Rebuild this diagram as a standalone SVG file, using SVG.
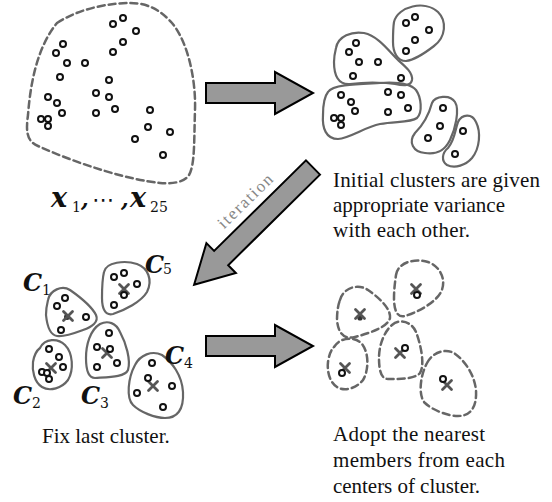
<svg xmlns="http://www.w3.org/2000/svg" width="552" height="502" viewBox="0 0 552 502">
  <style>
    .pt { fill: #fff; stroke: #111; stroke-width: 2; }
    .blob { fill: none; stroke: #666; stroke-width: 2.2; }
    .dash { fill: none; stroke: #666; stroke-width: 2.5; stroke-dasharray: 7 4; stroke-linecap: round; }
    .cross { stroke: #555; stroke-width: 2.8; stroke-linecap: round; fill: none; }
    .dot { fill: #333; }
    .big { fill: #999; stroke: #000; stroke-width: 2; stroke-linejoin: miter; }
    .note { font-family: "Liberation Serif", "Times New Roman", serif; font-size: 21px; fill: #111; }
    .mv { font-family: "DejaVu Serif", serif; font-weight: bold; font-style: italic; fill: #111; }
    .sub { font-family: "DejaVu Serif", serif; font-size: 14px; fill: #111; }
  </style>
  <defs>
    <symbol id="o" overflow="visible"><circle r="3" class="pt"/></symbol>
    <g id="x"><path class="cross" d="M-4.5,-4.5 L4.5,4.5 M4.5,-4.5 L-4.5,4.5"/></g>
  </defs>

  <!-- all 25 samples before clustering -->
  <g id="samples">
    <path class="dash" d="M57,23 C80,8 110,3 130,3 C150,3 162,12 172,23 C188,42 196,80 195,110 C194,140 195,165 189,175 C184,183 170,184 160,183 C130,180 80,165 38,146 C26,141 26,130 28,115 C30,90 35,50 57,23 Z"/>
    <use href="#o" x="113" y="24"/><use href="#o" x="123" y="18"/><use href="#o" x="136" y="31"/>
    <use href="#o" x="123" y="42"/><use href="#o" x="113" y="52"/><use href="#o" x="63" y="44"/>
    <use href="#o" x="56" y="53"/><use href="#o" x="67" y="63"/><use href="#o" x="85" y="63"/>
    <use href="#o" x="60" y="77"/><use href="#o" x="109" y="80"/><use href="#o" x="48" y="97"/>
    <use href="#o" x="96" y="93"/><use href="#o" x="109" y="97"/><use href="#o" x="57" y="103"/>
    <use href="#o" x="62" y="113"/><use href="#o" x="96" y="113"/><use href="#o" x="115" y="109"/>
    <use href="#o" x="150" y="110"/><use href="#o" x="148" y="127"/><use href="#o" x="170" y="132"/>
    <use href="#o" x="135" y="139"/><use href="#o" x="163" y="155"/><use href="#o" x="41" y="119"/>
    <use href="#o" x="48" y="119"/><use href="#o" x="48" y="126"/>
    <text class="mv" font-size="27" x="51" y="207">x</text>
    <text class="sub" font-size="15" x="72" y="212">1</text>
    <text class="mv" font-size="22" x="81" y="207">,</text>
    <text font-family="DejaVu Sans, sans-serif" font-size="22" fill="#111" x="92" y="207">⋯</text>
    <text class="mv" font-size="22" x="121" y="207">,</text>
    <text class="mv" font-size="27" x="130" y="207">x</text>
    <text class="sub" font-size="15" x="150" y="212">25</text>
  </g>

  <!-- initial clusters -->
  <g id="initial">
    <path class="blob" d="M394,22 C398,6 425,0 438,12 C447,21 446,37 434,46 C425,53 414,60 406,61 C397,61 393,52 393,42 C393,35 393,28 394,22 Z"/>
    <use href="#o" x="406" y="23"/><use href="#o" x="415" y="17"/><use href="#o" x="429" y="30"/>
    <use href="#o" x="415" y="40"/><use href="#o" x="406" y="51"/>
    <path class="blob" d="M336,48 C338,36 352,31 364,33 C378,36 388,50 398,60 C406,67 413,73 412,80 C411,86 404,86 395,84 C380,82 365,82 350,84 C338,85 334,75 334,62 C334,56 335,52 336,48 Z"/>
    <use href="#o" x="356" y="43"/><use href="#o" x="349" y="52"/><use href="#o" x="359" y="62"/>
    <use href="#o" x="378" y="62"/><use href="#o" x="353" y="76"/><use href="#o" x="401" y="78"/>
    <path class="blob" d="M328,92 C333,84 360,84 380,83 C395,82 410,83 416,90 C421,97 423,112 417,118 C410,123 395,121 380,124 C365,127 350,138 338,139 C326,139 322,128 323,115 C323,105 324,97 328,92 Z"/>
    <use href="#o" x="341" y="95"/><use href="#o" x="351" y="102"/><use href="#o" x="355" y="111"/>
    <use href="#o" x="334" y="118"/><use href="#o" x="341" y="118"/><use href="#o" x="341" y="125"/>
    <use href="#o" x="388" y="92"/><use href="#o" x="401" y="95"/><use href="#o" x="408" y="108"/>
    <use href="#o" x="388" y="112"/>
    <path class="blob" d="M432,103 C435,96 450,94 455,102 C460,110 455,130 450,140 C445,150 438,155 425,153 C413,152 408,142 415,133 C422,126 428,118 432,103 Z"/>
    <use href="#o" x="443" y="108"/><use href="#o" x="440" y="126"/><use href="#o" x="428" y="138"/>
    <path class="blob" d="M458,122 C462,114 472,113 476,122 C481,132 480,148 472,158 C466,165 455,169 447,165 C441,161 442,153 448,148 C455,140 455,130 458,122 Z"/>
    <use href="#o" x="463" y="131"/><use href="#o" x="455" y="154"/>
  </g>

  <!-- final clusters C1..C5 with their centres -->
  <g id="final">
    <g id="c1">
      <path class="blob" d="M48,300 C50,290 62,285 70,290 C80,297 92,307 96,315 C99,322 92,327 83,330 C75,333 65,337 57,336 C50,335 47,325 46,315 C46,309 47,304 48,300 Z"/>
      <use href="#o" x="65" y="298"/><use href="#o" x="57" y="306"/><use href="#o" x="86" y="317"/><use href="#o" x="61" y="330"/>
      <circle class="dot" cx="67" cy="317" r="3"/><use href="#x" x="68" y="316"/>
    </g>
    <g id="c5">
      <path class="blob" d="M104,272 C106,262 125,260 137,264 C148,268 153,280 147,292 C141,302 125,310 113,314 C105,316 102,308 102,298 C102,288 102,280 104,272 Z"/>
      <use href="#x" x="124" y="289"/>
      <use href="#o" x="114" y="277"/><use href="#o" x="124" y="273"/><use href="#o" x="137" y="284"/>
      <use href="#o" x="124" y="295"/><use href="#o" x="114" y="305"/>
    </g>
    <g id="c3">
      <path class="blob" d="M100,324 C108,320 116,323 120,332 C126,343 131,360 128,370 C125,377 110,377 95,378 C88,378 86,370 86,358 C86,345 90,330 100,324 Z"/>
      <use href="#x" x="107" y="353"/>
      <use href="#o" x="109" y="333"/><use href="#o" x="97" y="347"/><use href="#o" x="110" y="349"/>
      <use href="#o" x="117" y="363"/><use href="#o" x="97" y="367"/>
    </g>
    <g id="c2">
      <path class="blob" d="M40,348 C45,338 58,338 65,345 C73,353 74,370 68,380 C62,388 50,392 42,387 C34,382 32,370 33,362 C34,356 36,351 40,348 Z"/>
      <use href="#x" x="51" y="368"/>
      <use href="#o" x="49" y="349"/><use href="#o" x="59" y="357"/><use href="#o" x="63" y="367"/>
      <use href="#o" x="42" y="372"/><use href="#o" x="47" y="373"/><use href="#o" x="49" y="379"/>
    </g>
    <g id="c4">
      <path class="blob" d="M135,365 C140,355 152,350 162,355 C172,362 182,375 183,392 C184,410 177,418 165,418 C155,418 140,412 133,405 C126,398 128,378 135,365 Z"/>
      <use href="#x" x="153" y="386"/>
      <use href="#o" x="152" y="363"/><use href="#o" x="148" y="378"/><use href="#o" x="172" y="386"/>
      <use href="#o" x="137" y="393"/><use href="#o" x="163" y="407"/>
    </g>
    <text class="mv" font-size="24" x="23" y="291">C</text><text class="sub" font-size="16" x="42" y="295">1</text>
    <text class="mv" font-size="24" x="145" y="273">C</text><text class="sub" font-size="16" x="163" y="274">5</text>
    <text class="mv" font-size="24" x="165" y="364">C</text><text class="sub" font-size="16" x="184" y="368">4</text>
    <text class="mv" font-size="24" x="13" y="404">C</text><text class="sub" font-size="16" x="32" y="408">2</text>
    <text class="mv" font-size="24" x="81" y="404">C</text><text class="sub" font-size="16" x="100" y="408">3</text>
  </g>

  <!-- regions of nearest members around each centre -->
  <g id="regions">
    <path class="dash" d="M340,300 C343,288 358,283 368,290 C378,297 391,308 390,318 C388,327 370,333 355,337 C343,340 338,332 337,320 C337,312 338,305 340,300 Z"/>
    <circle class="dot" cx="360" cy="318" r="2.6"/><use href="#x" x="360" y="314"/>
    <path class="dash" d="M396,275 C398,262 415,258 428,262 C440,266 447,280 441,292 C435,303 418,312 405,316 C397,318 394,310 394,298 C394,290 395,282 396,275 Z"/>
    <use href="#x" x="416" y="289"/><use href="#o" x="417" y="295"/>
    <path class="dash" d="M392,325 C400,318 412,322 416,332 C421,345 425,365 420,373 C415,379 400,379 388,379 C381,379 379,370 379,358 C379,345 384,332 392,325 Z"/>
    <use href="#x" x="400" y="353"/><use href="#o" x="405" y="348"/>
    <path class="dash" d="M334,347 C340,337 355,336 362,344 C369,353 369,370 363,380 C357,388 345,392 337,387 C329,382 327,370 328,362 C329,355 331,350 334,347 Z"/>
    <use href="#x" x="345" y="368"/><use href="#o" x="342" y="373"/>
    <path class="dash" d="M427,363 C432,353 444,348 454,353 C464,360 474,373 476,390 C477,408 470,416 458,416 C448,416 432,410 425,403 C418,396 420,376 427,363 Z"/>
    <use href="#x" x="447" y="385"/><use href="#o" x="443" y="379"/>
  </g>

  <!-- process arrows -->
  <g id="connectors">
    <polygon class="big" transform="translate(206,93)" points="0,-10 69,-10 69,-21 107,0 69,21 69,10 0,10"/>
    <polygon class="big" transform="translate(313,167.5) rotate(135.4)" points="0,-10 129,-10 129,-21 167,0 129,21 129,10 0,10"/>
    <polygon class="big" transform="translate(206,346)" points="0,-10 69,-10 69,-21 107,0 69,21 69,10 0,10"/>
    <text transform="translate(249,205) rotate(-44.5)" text-anchor="middle" font-family="Liberation Serif, serif" font-size="17" fill="#888" textLength="70">iteration</text>
  </g>

  <!-- captions -->
  <g id="captions">
    <text class="note" x="333" y="187" textLength="207">Initial clusters are given</text>
    <text class="note" x="333" y="212" textLength="172">appropriate variance</text>
    <text class="note" x="333" y="237" textLength="137">with each other.</text>
    <text class="note" x="42" y="443" font-size="15.5">Fix last cluster.</text>
    <text class="note" x="333" y="441" textLength="152">Adopt the nearest</text>
    <text class="note" x="333" y="467" textLength="172">members from each</text>
    <text class="note" x="333" y="493" textLength="147">centers of cluster.</text>
  </g>
</svg>
